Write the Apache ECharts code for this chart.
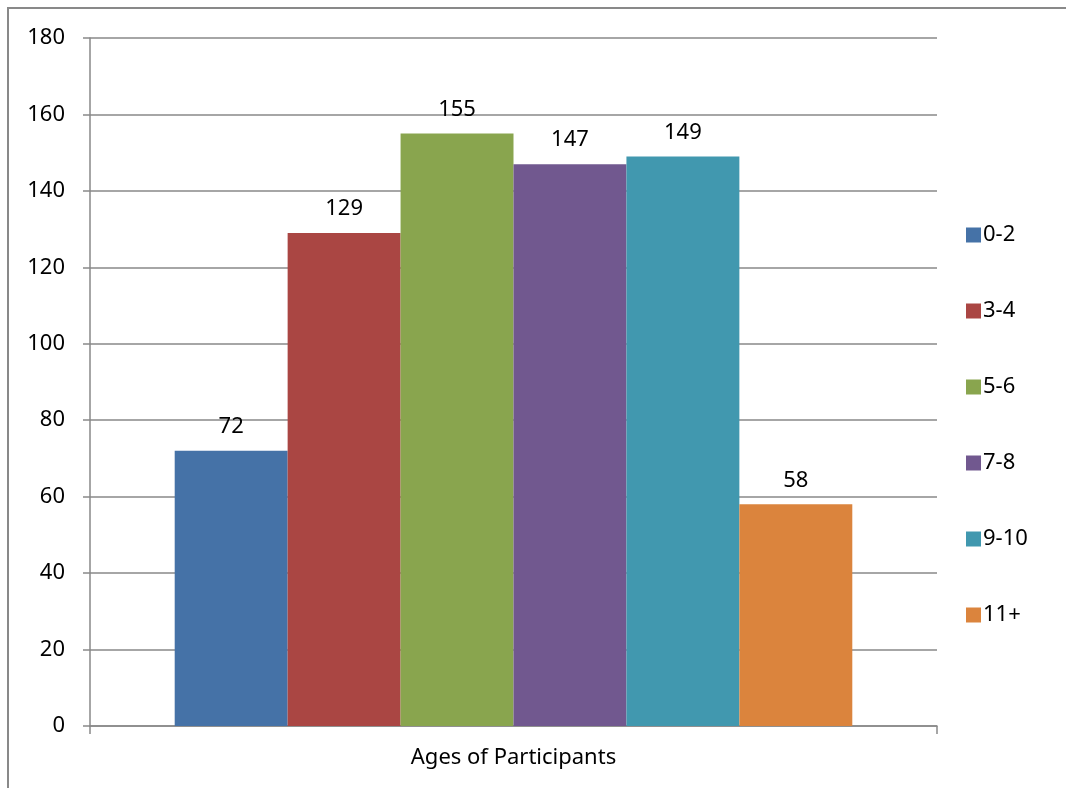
<!DOCTYPE html>
<html>
<head>
<meta charset="utf-8">
<script src="https://cdn.jsdelivr.net/npm/echarts@6/dist/echarts.min.js"></script>
<style>
  html, body { margin: 0; padding: 0; background: #fff; }
  #chart { width: 1066px; height: 788px; }
</style>
</head>
<body>
<div id="chart"></div>
<script>
// data
const categories = ['Ages of Participants']
const seriesNames = ['0-2', '3-4', '5-6', '7-8', '9-10', '11+']
const seriesValues = [72, 129, 155, 147, 149, 58]
const colors = ['#4572A7', '#AA4643', '#89A54E', '#71588F', '#4198AF', '#DB843D']

const font = 'Noto Sans'
const fontSize = 22
const lineColor = '#898989'

const myChart = echarts.init(document.getElementById('chart'))

myChart.setOption({
  animation: false,
  color: colors,
  textStyle: { fontFamily: font },
  graphic: [
    {
      type: 'rect',
      shape: { x: 8, y: 8, width: 2000, height: 2000 },
      style: { fill: 'none', stroke: lineColor, lineWidth: 2 },
      silent: true
    }
  ],
  grid: { left: 90, right: 129, top: 38, bottom: 62 },
  legend: {
    orient: 'vertical',
    left: 961,
    top: 218,
    itemWidth: 15,
    itemHeight: 15,
    itemGap: 52,
    icon: 'rect',
    textStyle: { fontFamily: font, fontSize: fontSize, color: '#000', lineHeight: 24, padding: [0, 0, 0, -3] },
    data: seriesNames
  },
  xAxis: {
    type: 'category',
    data: categories,
    axisLine: { lineStyle: { color: lineColor, width: 1.5 } },
    axisTick: { show: true, length: 8, lineStyle: { color: lineColor, width: 1.5 } },
    axisLabel: { margin: 21, fontSize: fontSize, color: '#000', fontFamily: font }
  },
  yAxis: {
    type: 'value',
    min: 0,
    max: 180,
    interval: 20,
    axisLine: { show: true, lineStyle: { color: lineColor, width: 1.5 } },
    axisTick: { show: true, length: 7, lineStyle: { color: lineColor, width: 1.5 } },
    axisLabel: { margin: 25, fontSize: fontSize, color: '#000', fontFamily: font },
    splitLine: { lineStyle: { color: lineColor, width: 1.5 } }
  },
  series: seriesNames.map(function (name, i) {
    return {
      name: name,
      type: 'bar',
      barGap: '0%',
      barCategoryGap: '20%',
      data: [seriesValues[i]],
      label: {
        show: true,
        position: 'top',
        distance: 13,
        fontSize: fontSize,
        color: '#000',
        fontFamily: font
      }
    }
  })
})
</script>
</body>
</html>
